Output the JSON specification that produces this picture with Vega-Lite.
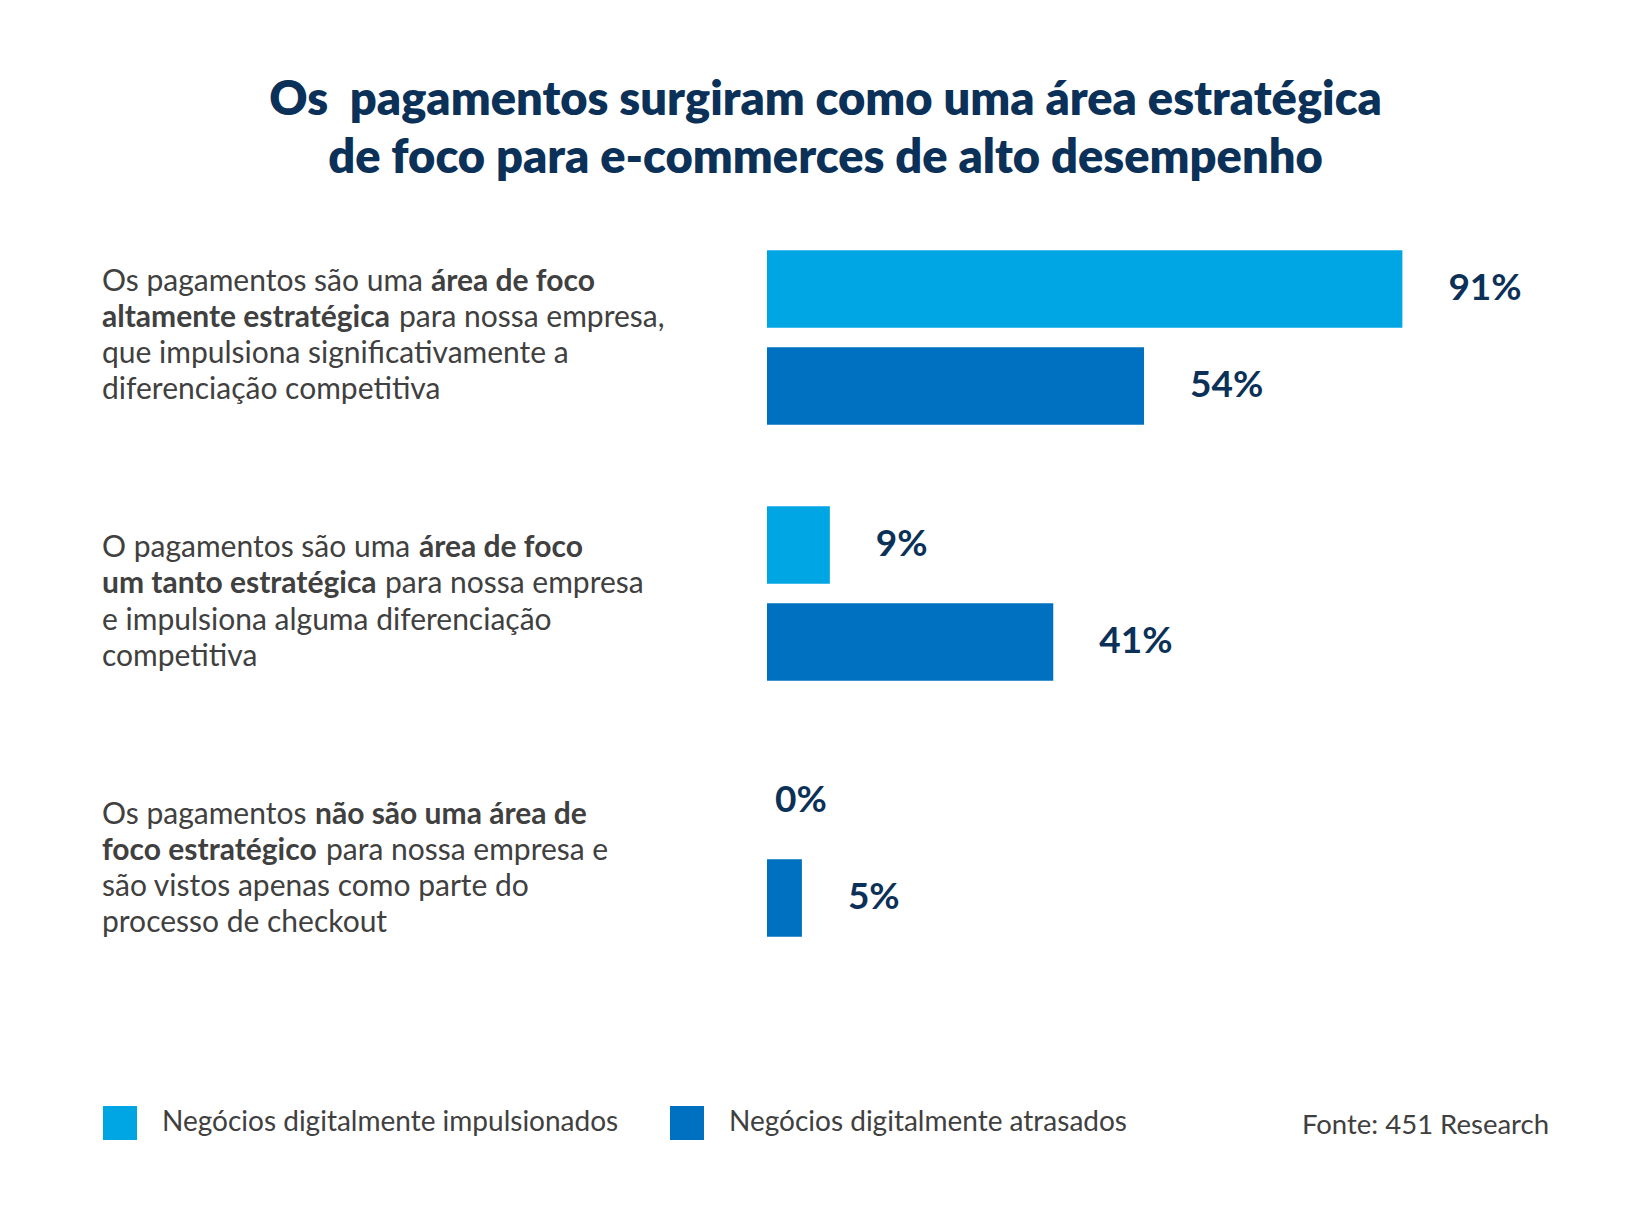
{
  "$schema": "https://vega.github.io/schema/vega-lite/v6.json",
  "background": "white",
  "padding": {"left": 102, "top": 77, "right": 0, "bottom": 0},
  "title": {
    "text": ["Os \u00a0pagamentos surgiram como uma área estratégica", "de foco para e-commerces de alto desempenho"],
    "anchor": "middle",
    "font": "Lato",
    "fontSize": 47,
    "fontWeight": 800,
    "color": "#0b3158",
    "lineHeight": 58,
    "offset": 29
  },
  "config": {"view": {"stroke": null}},
  "resolve": {"scale": {"y": "independent", "yOffset": "independent", "x": "independent"}},
  "hconcat": [
    {
      "width": 645,
      "height": 781,
      "data": {"values": [
        {"q": "q1", "line": 1, "seg": "r0", "txt": "Os pagamentos são uma"},
        {"q": "q1", "line": 1, "seg": "b1a", "txt": "área de foco"},
        {"q": "q1", "line": 2, "seg": "b0", "txt": "altamente estratégica"},
        {"q": "q1", "line": 2, "seg": "r2a", "txt": "para nossa empresa,"},
        {"q": "q1", "line": 3, "seg": "r0", "txt": "que impulsiona significativamente a"},
        {"q": "q1", "line": 4, "seg": "r0", "txt": "diferenciação competitiva"},
        {"q": "q2", "line": 1, "seg": "r0", "txt": "O pagamentos são uma"},
        {"q": "q2", "line": 1, "seg": "b1b", "txt": "área de foco"},
        {"q": "q2", "line": 2, "seg": "b0", "txt": "um tanto estratégica"},
        {"q": "q2", "line": 2, "seg": "r2b", "txt": "para nossa empresa"},
        {"q": "q2", "line": 3, "seg": "r0", "txt": "e impulsiona alguma diferenciação"},
        {"q": "q2", "line": 4, "seg": "r0", "txt": "competitiva"},
        {"q": "q3", "line": 1, "seg": "r0", "txt": "Os pagamentos"},
        {"q": "q3", "line": 1, "seg": "b1c", "txt": "não são uma área de"},
        {"q": "q3", "line": 2, "seg": "b0", "txt": "foco estratégico"},
        {"q": "q3", "line": 2, "seg": "r2c", "txt": "para nossa empresa e"},
        {"q": "q3", "line": 3, "seg": "r0", "txt": "são vistos apenas como parte do"},
        {"q": "q3", "line": 4, "seg": "r0", "txt": "processo de checkout"}
      ]},
      "encoding": {
        "x": {"datum": 0, "type": "quantitative", "scale": {"domain": [0, 1]}, "axis": null},
        "y": {"field": "q", "type": "nominal", "scale": {"paddingInner": 0.328, "paddingOuter": 0.1295}, "axis": null},
        "yOffset": {"field": "line", "type": "ordinal", "scale": {"type": "point", "padding": 0.986}},
        "text": {"field": "txt"}
      },
      "layer": [
        {"transform": [{"filter": "datum.seg == 'r0'"}], "mark": {"type": "text", "align": "left", "baseline": "middle", "font": "Lato", "fontSize": 30, "color": "#404040"}},
        {"transform": [{"filter": "datum.seg == 'b0'"}], "mark": {"type": "text", "align": "left", "baseline": "middle", "font": "Lato", "fontSize": 30, "fontWeight": "bold", "color": "#404040"}},
        {"transform": [{"filter": "datum.seg == 'b1a'"}], "mark": {"type": "text", "align": "left", "baseline": "middle", "font": "Lato", "fontSize": 30, "fontWeight": "bold", "color": "#404040", "dx": 329}},
        {"transform": [{"filter": "datum.seg == 'b1b'"}], "mark": {"type": "text", "align": "left", "baseline": "middle", "font": "Lato", "fontSize": 30, "fontWeight": "bold", "color": "#404040", "dx": 317}},
        {"transform": [{"filter": "datum.seg == 'b1c'"}], "mark": {"type": "text", "align": "left", "baseline": "middle", "font": "Lato", "fontSize": 30, "fontWeight": "bold", "color": "#404040", "dx": 213}},
        {"transform": [{"filter": "datum.seg == 'r2a'"}], "mark": {"type": "text", "align": "left", "baseline": "middle", "font": "Lato", "fontSize": 30, "color": "#404040", "dx": 297}},
        {"transform": [{"filter": "datum.seg == 'r2b'"}], "mark": {"type": "text", "align": "left", "baseline": "middle", "font": "Lato", "fontSize": 30, "color": "#404040", "dx": 283}},
        {"transform": [{"filter": "datum.seg == 'r2c'"}], "mark": {"type": "text", "align": "left", "baseline": "middle", "font": "Lato", "fontSize": 30, "color": "#404040", "dx": 224}}
      ]
    },
    {
      "width": 782,
      "height": 763,
      "title": {"text": "Fonte: 451 Research", "orient": "bottom", "anchor": "end", "font": "Lato", "fontSize": 27.5, "fontWeight": "normal", "color": "#404040", "offset": 137, "baseline": "top"},
      "data": {"values": [
        {"q": "q1", "serie": "Negócios digitalmente impulsionados", "v": 0.91},
        {"q": "q1", "serie": "Negócios digitalmente atrasados", "v": 0.54},
        {"q": "q2", "serie": "Negócios digitalmente impulsionados", "v": 0.09},
        {"q": "q2", "serie": "Negócios digitalmente atrasados", "v": 0.41},
        {"q": "q3", "serie": "Negócios digitalmente impulsionados", "v": 0.0},
        {"q": "q3", "serie": "Negócios digitalmente atrasados", "v": 0.05}
      ]},
      "encoding": {
        "x": {"field": "v", "type": "quantitative", "scale": {"domain": [0, 1.12], "nice": false}, "axis": null},
        "y": {"field": "q", "type": "nominal", "scale": {"paddingInner": 0.318, "paddingOuter": 0.149}, "axis": null},
        "yOffset": {"field": "serie", "type": "nominal", "sort": ["Negócios digitalmente impulsionados", "Negócios digitalmente atrasados"], "scale": {"paddingInner": 0.2, "paddingOuter": 0}}
      },
      "layer": [
        {
          "mark": {"type": "bar", "cornerRadius": 0},
          "encoding": {
            "color": {
              "field": "serie", "type": "nominal",
              "sort": ["Negócios digitalmente impulsionados", "Negócios digitalmente atrasados"],
              "scale": {"domain": ["Negócios digitalmente impulsionados", "Negócios digitalmente atrasados"], "range": ["#00a5e3", "#0071c1"]},
              "legend": {
                "title": null, "orient": "none", "legendX": 1, "legendY": 894, "direction": "horizontal",
                "symbolType": "square", "symbolSize": 1156, "symbolStrokeWidth": 0, "symbolOpacity": 1,
                "labelFont": "Lato", "labelFontSize": 28, "labelColor": "#404040", "labelOffset": 25, "columnPadding": 51, "labelLimit": 600
              }
            }
          }
        },
        {
          "transform": [{"filter": "datum.v > 0"}],
          "mark": {"type": "text", "align": "left", "baseline": "middle", "dx": 46, "font": "Lato", "fontSize": 37, "fontWeight": "bold", "color": "#0b3158"},
          "encoding": {"text": {"field": "v", "type": "quantitative", "format": ".0%"}}
        },
        {
          "transform": [{"filter": "datum.v == 0"}],
          "mark": {"type": "text", "align": "left", "baseline": "middle", "dx": 8, "font": "Lato", "fontSize": 37, "fontWeight": "bold", "color": "#0b3158"},
          "encoding": {"text": {"field": "v", "type": "quantitative", "format": ".0%"}}
        }
      ]
    }
  ],
  "spacing": 20
}
